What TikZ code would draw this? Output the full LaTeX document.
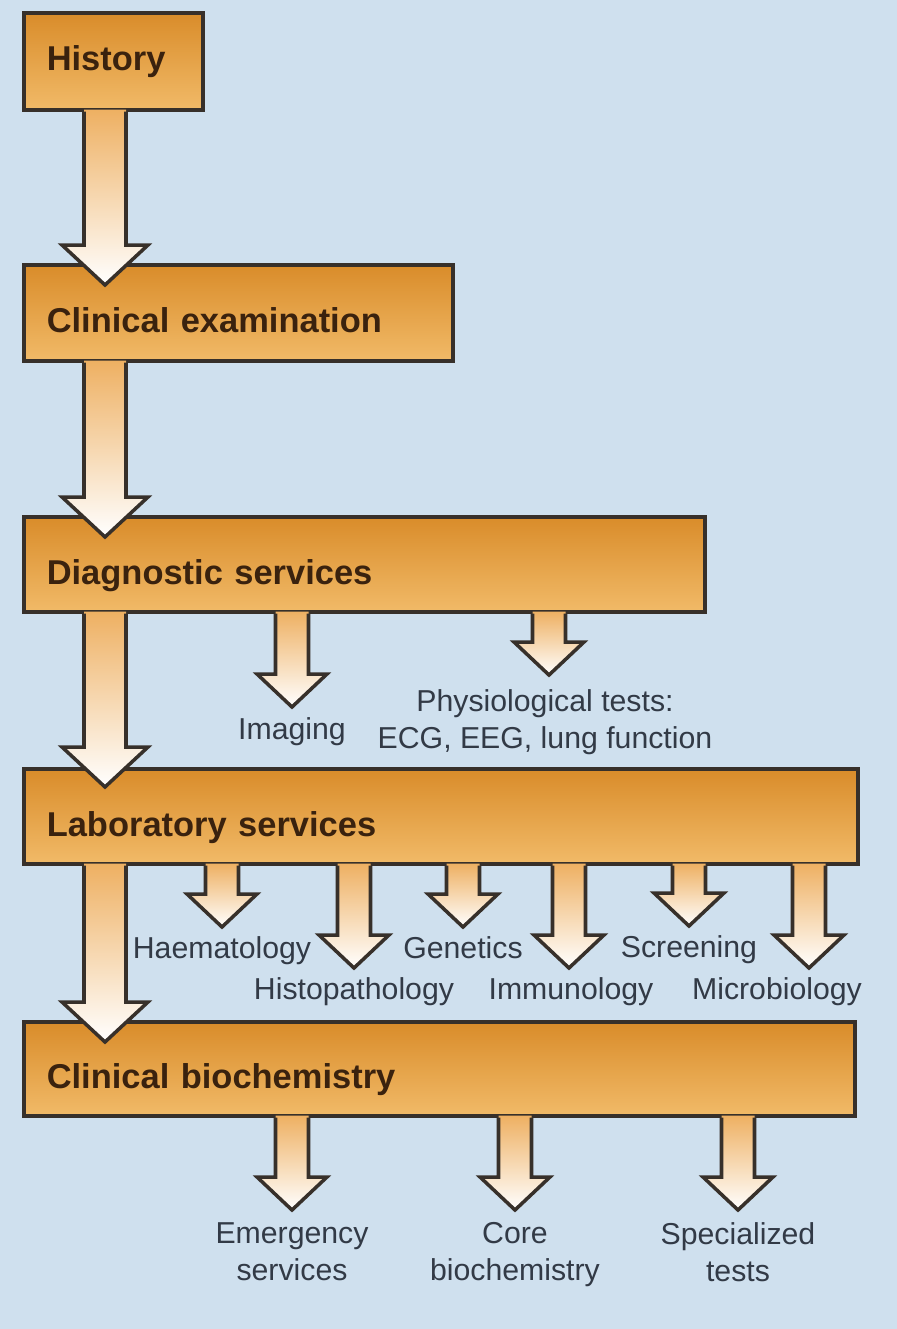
\documentclass[tikz,border=0pt]{standalone}
\usepackage{fontspec}
\setmainfont{Liberation Sans}
\usetikzlibrary{calc, positioning}
\definecolor{bgblue}{RGB}{207,224,238}
\definecolor{boxtop}{RGB}{217,140,42}
\definecolor{boxbot}{RGB}{241,186,104}
\definecolor{arrtop}{RGB}{238,176,98}
\definecolor{edge}{RGB}{55,48,42}
\definecolor{headtxt}{RGB}{58,34,14}
\definecolor{lbltxt}{RGB}{50,58,70}
\tikzset{
    stage/.style args={#1 #2}{
        draw=edge, line width=1pt, top color=boxtop, bottom color=boxbot,
        anchor=north west, inner xsep=2.3mm, inner ysep=0pt,
        text width=#1, minimum height=#2, text=headtxt,
        font=\fontsize{9.8pt}{11pt}\selectfont\bfseries
    },
    lowtext/.style={text height=13.8pt, text depth=2.5pt},
    lbl/.style={
        text=lbltxt, inner sep=0pt, align=center,
        font=\fontsize{8.6pt}{10.5pt}\selectfont
    },
    arrline/.style={draw=edge, line width=1pt, line join=miter}
}
% block arrow: root on the box edge, tip, shaft half width, head half width, head length
\newcommand{\blockarrow}[5]{%
    \coordinate (ba-s) at (#1);
    \coordinate (ba-t) at (#2);
    \shade[top color=arrtop, bottom color=white]
        ($(ba-s)+(-#3,-2)$) -- ($(ba-t)+(-#3,-#5)$) -- ($(ba-t)+(-#4,-#5)$) -- (ba-t)
        -- ($(ba-t)+(#4,-#5)$) -- ($(ba-t)+(#3,-#5)$) -- ($(ba-s)+(#3,-2)$) -- cycle;
    \draw[arrline]
        ($(ba-s)+(-#3,0)$) -- ($(ba-t)+(-#3,-#5)$) -- ($(ba-t)+(-#4,-#5)$) -- (ba-t)
        -- ($(ba-t)+(#4,-#5)$) -- ($(ba-t)+(#3,-#5)$) -- ($(ba-s)+(#3,0)$);
}
\newcommand{\mainarrow}[2]{\blockarrow{#1}{#2}{21}{43}{40}}
\newcommand{\subarrow}[2]{\blockarrow{#1}{#2}{16.5}{35}{33}}

\begin{document}
\begin{tikzpicture}[x=0.01cm, y=-0.01cm]
    \fill[bgblue] (0,0) rectangle (897,1329);
    \useasboundingbox (0,0) rectangle (897,1329);

    % stages
    \node[stage={13.3mm 9.7mm}]          (hist)  at (22,11)   {History};
    \node[stage={38.3mm 9.6mm}, lowtext] (exam)  at (22,263)  {Clinical examination};
    \node[stage={63.5mm 9.5mm}, lowtext] (diag)  at (22,515)  {Diagnostic services};
    \node[stage={78.8mm 9.5mm}, lowtext] (lab)   at (22,767)  {Laboratory services};
    \node[stage={78.5mm 9.4mm}, lowtext] (bio)   at (22,1020) {Clinical biochemistry};

    % arrow tips
    \coordinate (t-exam) at (105,285);
    \coordinate (t-diag) at (105,537);
    \coordinate (t-lab)  at (105,787);
    \coordinate (t-bio)  at (105,1042);
    \coordinate (t-imag) at (292,707);
    \coordinate (t-phys) at (549,675);
    \coordinate (t-haem) at (222,927);
    \coordinate (t-histo) at (354,968);
    \coordinate (t-gene) at (463,927);
    \coordinate (t-immu) at (569,968);
    \coordinate (t-scre) at (689,926);
    \coordinate (t-micro) at (809,968);
    \coordinate (t-emer) at (292,1210);
    \coordinate (t-core) at (515,1210);
    \coordinate (t-spec) at (738,1210);

    % labels
    \node[lbl, below=1mm of t-imag] (imag) {Imaging};
    \node[lbl, below=1.4mm of t-phys, xshift=-0.4mm] (phys) {Physiological tests:\\ECG, EEG, lung function};
    \node[lbl, below=0.9mm of t-haem] (haem) {Haematology};
    \node[lbl, below=0.9mm of t-histo] (histo) {Histopathology};
    \node[lbl, below=0.9mm of t-gene] (gene) {Genetics};
    \node[lbl, below=0.9mm of t-immu, xshift=0.2mm] (immu) {Immunology};
    \node[lbl, below=0.9mm of t-scre] (scre) {Screening};
    \node[lbl, below=0.9mm of t-micro, xshift=-3.2mm] (micro) {Microbiology};
    \node[lbl, below=1.2mm of t-emer] (emer) {Emergency\\services};
    \node[lbl, below=1.2mm of t-core] (core) {Core\\biochemistry};
    \node[lbl, below=1.2mm of t-spec] (spec) {Specialized\\tests};

    % arrows
    \mainarrow{hist.south -| t-exam}{t-exam}
    \mainarrow{exam.south -| t-diag}{t-diag}
    \mainarrow{diag.south -| t-lab}{t-lab}
    \mainarrow{lab.south -| t-bio}{t-bio}
    \subarrow{diag.south -| t-imag}{t-imag}
    \subarrow{diag.south -| t-phys}{t-phys}
    \foreach \t in {haem, histo, gene, immu, scre, micro}
        {\subarrow{lab.south -| t-\t}{t-\t}}
    \foreach \t in {emer, core, spec}
        {\subarrow{bio.south -| t-\t}{t-\t}}
\end{tikzpicture}
\end{document}
